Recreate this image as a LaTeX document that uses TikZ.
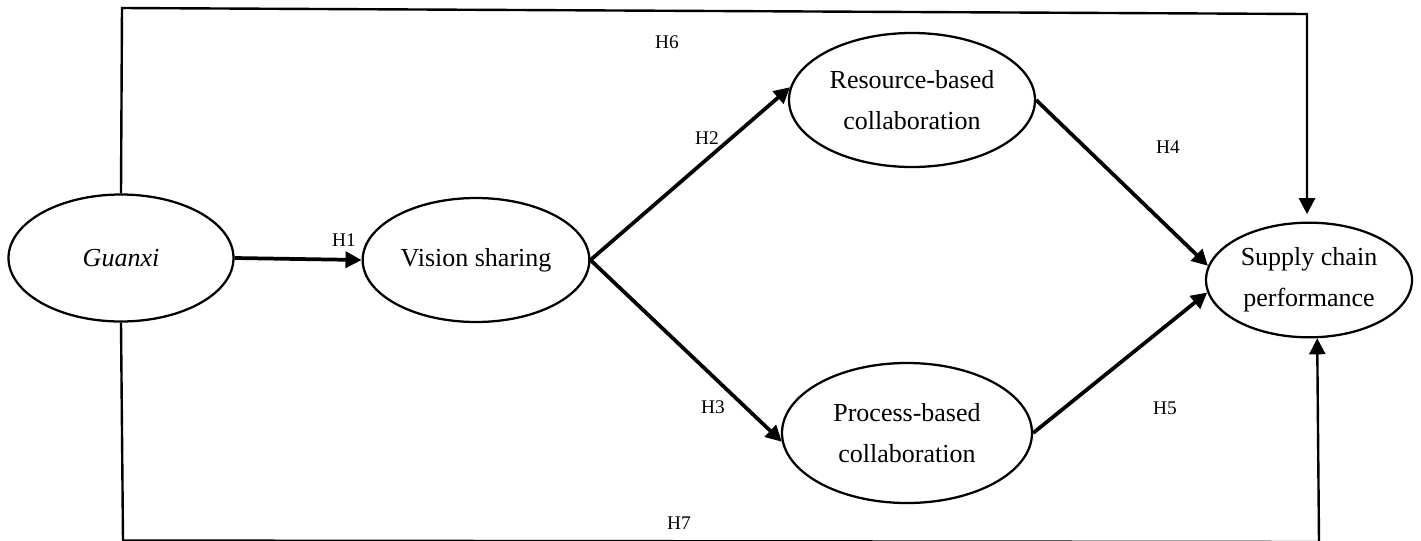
\documentclass[tikz,border=0pt]{standalone}
\usepackage{fontspec}
\setmainfont{Liberation Serif}
\usetikzlibrary{shapes.geometric,arrows.meta}

\begin{document}
\begin{tikzpicture}[x=0.75pt,y=-0.75pt,
		var/.style={draw,ellipse,line width=1.7pt,inner sep=0pt,align=center,font=\fontsize{19.5}{31}\selectfont},
		link/.style={line width=2.8pt,-{Triangle[length=12pt,width=12pt]}},
		frame/.style={line width=1.8pt,-{Triangle[length=12pt,width=12pt]}},
		hyp/.style={font=\fontsize{14.5}{17}\selectfont}]
		\useasboundingbox (0,0) rectangle (1421,540);
		\node[var,minimum width=168.75pt,minimum height=95.25pt] (gx) at (121,258) {\textit{Guanxi}};
		\node[var,minimum width=170pt,minimum height=93pt] (vs) at (476,260) {Vision sharing};
		\node[var,minimum width=184.5pt,minimum height=100.5pt] (rb) at (912,100) {Resource-based\\collaboration};
		\node[var,minimum width=187.5pt,minimum height=105pt] (pb) at (907,433) {Process-based\\collaboration};
		\node[var,minimum width=154.5pt,minimum height=86pt] (sc) at (1309,280) {Supply chain\\performance};
		\node[hyp] (h1) at (344,240) {H1};
		\node[hyp] (h2) at (707,138) {H2};
		\node[hyp] (h3) at (713,407) {H3};
		\node[hyp] (h4) at (1168,147) {H4};
		\node[hyp] (h5) at (1165,408) {H5};
		\node[hyp] (h6) at (667,42) {H6};
		\node[hyp] (h7) at (679,523) {H7};
		\coordinate (tl) at (122,8);
		\coordinate (tr) at (1307,14);
		\coordinate (bl) at (123,540.5);
		\coordinate (br) at (1319,542);
		\draw[link] (gx.east) -- (vs.west);
		\draw[link] (vs.east) -- (rb.174);
		\draw[link] (vs.east) -- (pb.184);
		\draw[link] (rb.east) -- (sc.172);
		\draw[link] (pb.east) -- (sc.187);
		\draw[frame,shorten >=5.5pt] (gx.north) -- (tl) -- (tr) -- (tr |- sc.north);
		\draw[frame] (gx.south) -- (bl) -- (br) -- (sc.278);
	\end{tikzpicture}
\end{document}
